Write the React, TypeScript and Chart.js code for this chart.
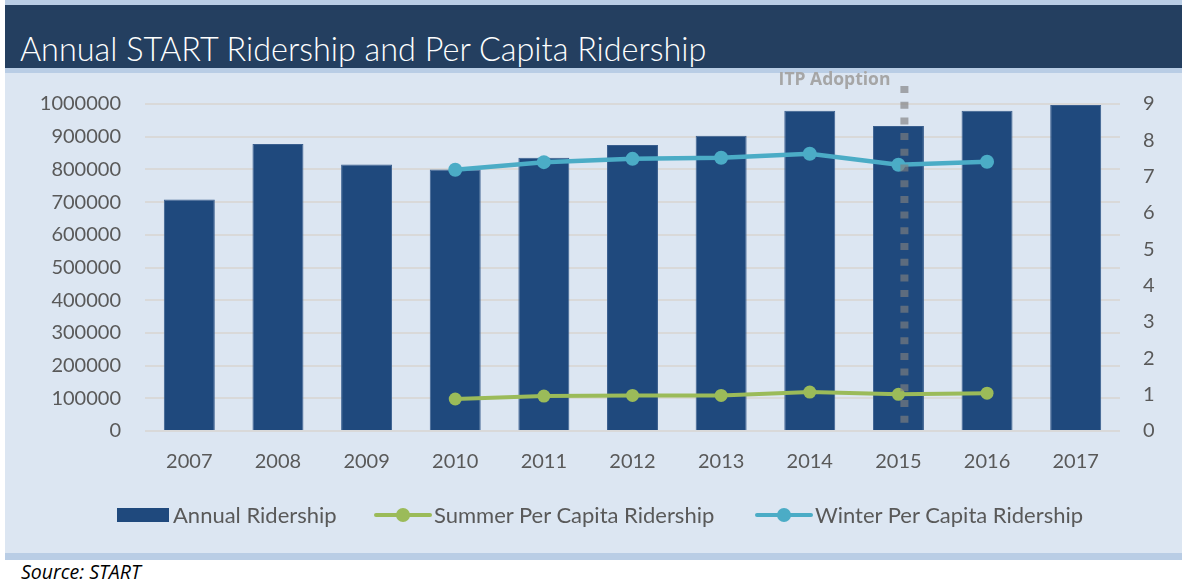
import React, { useEffect, useRef } from "react";
import { Chart, registerables } from "chart.js";

Chart.register(...registerables);

const years = ["2007", "2008", "2009", "2010", "2011", "2012", "2013", "2014", "2015", "2016", "2017"];
const annualRidership = [708000, 878000, 815000, 800000, 836000, 875000, 903000, 979000, 933000, 979000, 997000];
const summerPerCapita = [null, null, null, 0.88, 0.96, 0.98, 0.98, 1.07, 1.01, 1.04, null];
const winterPerCapita = [null, null, null, 7.19, 7.4, 7.49, 7.52, 7.63, 7.33, 7.41, null];
const leftAxisMax = 1000000;
const leftAxisStep = 100000;
const rightAxisMax = 9;
const rightAxisStep = 1;
const itpYear = "2015";
const itpLabel = "ITP Adoption";

const NAVY = "#1F497D";
const GREEN = "#9BBB59";
const CYAN = "#4BACC6";
const TICK = "#595959";
const FONT = "Lato, 'Open Sans', sans-serif";

const itpPlugin = {
  id: "itpLine",
  afterDatasetsDraw(chart: any) {
    const { ctx, chartArea, scales } = chart;
    const idx = years.indexOf(itpYear);
    const x = scales.x.getPixelForValue(idx) + 6;
    ctx.save();
    ctx.strokeStyle = "rgba(128,128,128,0.65)";
    ctx.lineWidth = 8;
    ctx.setLineDash([7, 8.7]);
    ctx.beginPath();
    ctx.moveTo(x, 18);
    ctx.lineTo(x, chartArea.bottom - 2);
    ctx.stroke();
    ctx.setLineDash([]);
    ctx.font = `bold 17.5px 'Open Sans', sans-serif`;
    ctx.fillStyle = "#A6A6A6";
    ctx.textAlign = "right";
    ctx.textBaseline = "middle";
    ctx.fillText(itpLabel, x - 14, 12);
    ctx.restore();
  },
};

function LegendLine({ left, color, textLeft, label }: any) {
  return (
    <>
      <div style={{ position: "absolute", left, top: 513, width: 58, height: 4, background: color, borderRadius: 2 }} />
      <div
        style={{
          position: "absolute",
          left: left + 29 - 7,
          top: 508,
          width: 14,
          height: 14,
          borderRadius: 7,
          background: color,
        }}
      />
      <div style={{ position: "absolute", left: textLeft, top: 501, fontSize: 22, lineHeight: "28px", color: TICK, fontFamily: FONT, whiteSpace: "nowrap" }}>
        {label}
      </div>
    </>
  );
}

export default function App() {
  const canvasRef = useRef<HTMLCanvasElement | null>(null);

  useEffect(() => {
    if (!canvasRef.current) return;
    const chart = new Chart(canvasRef.current, {
      type: "bar",
      data: {
        labels: years,
        datasets: [
          {
            type: "line",
            label: "Summer Per Capita Ridership",
            data: summerPerCapita,
            yAxisID: "y1",
            borderColor: GREEN,
            backgroundColor: GREEN,
            borderWidth: 4,
            pointRadius: 6.5,
            pointBorderWidth: 0,
            pointBackgroundColor: GREEN,
            order: 1,
          },
          {
            type: "line",
            label: "Winter Per Capita Ridership",
            data: winterPerCapita,
            yAxisID: "y1",
            borderColor: CYAN,
            backgroundColor: CYAN,
            borderWidth: 4.5,
            pointRadius: 7,
            pointBorderWidth: 0,
            pointBackgroundColor: CYAN,
            order: 1,
          },
          {
            type: "bar",
            label: "Annual Ridership",
            data: annualRidership,
            yAxisID: "y",
            backgroundColor: NAVY,
            borderColor: "#3A5F8F",
            borderWidth: 1,
            barPercentage: 1,
            categoryPercentage: 0.575,
            order: 2,
          },
        ],
      } as any,
      options: {
        animation: false,
        responsive: false,
        layout: { padding: { top: 34, left: 0, right: 0, bottom: 0 } },
        plugins: { legend: { display: false }, tooltip: { enabled: false }, title: { display: false } },
        scales: {
          x: {
            grid: { display: false, drawTicks: false },
            border: { display: false },
            ticks: { color: TICK, font: { family: FONT, size: 20 }, padding: 19 },
            afterFit(scale: any) {
              scale.height = 122;
            },
          },
          y: {
            position: "left",
            min: 0,
            max: leftAxisMax,
            ticks: {
              stepSize: leftAxisStep,
              color: TICK,
              font: { family: FONT, size: 20 },
              padding: 24,
              callback: (v: any) => String(v),
            },
            grid: { color: "#D9D9D9", lineWidth: 2, drawTicks: false },
            border: { display: false },
            afterFit(scale: any) {
              scale.width = 140;
            },
          },
          y1: {
            position: "right",
            min: 0,
            max: rightAxisMax,
            ticks: { stepSize: rightAxisStep, color: TICK, font: { family: FONT, size: 20 }, padding: 23 },
            grid: { display: false, drawTicks: false },
            border: { display: false },
            afterFit(scale: any) {
              scale.width = 61;
            },
          },
        },
      } as any,
      plugins: [itpPlugin],
    });
    return () => chart.destroy();
  }, []);

  return (
    <div style={{ position: "absolute", left: 0, top: 0, width: 1182, height: 585, background: "#FFFFFF", overflow: "hidden" }}>
      <div style={{ position: "absolute", left: 5, top: 0, width: 1177, height: 5, background: "#B9CDE5" }} />
      <div style={{ position: "absolute", left: 5, top: 5, width: 1177, height: 63, background: "#243F60" }} />
      <div style={{ position: "absolute", left: 5, top: 68, width: 1177, height: 5, background: "#B9CDE5" }} />
      <div style={{ position: "absolute", left: 5, top: 73, width: 1177, height: 480, background: "#DCE6F2" }} />
      <div style={{ position: "absolute", left: 5, top: 553, width: 1177, height: 7, background: "#B9CDE5" }} />
      <div
        style={{
          position: "absolute",
          left: 20,
          top: 29,
          fontFamily: FONT,
          fontWeight: 300,
          fontSize: 32.4,
          lineHeight: "40px",
          color: "#FFFFFF",
          whiteSpace: "nowrap",
        }}
      >
        Annual START Ridership and Per Capita Ridership
      </div>
      <canvas ref={canvasRef} width={1176} height={485} style={{ position: "absolute", left: 5, top: 68, width: 1176, height: 485 }} />
      <div style={{ position: "absolute", left: 117, top: 508, width: 52, height: 14, background: NAVY }} />
      <div style={{ position: "absolute", left: 173, top: 501, fontSize: 22, lineHeight: "28px", color: TICK, fontFamily: FONT, whiteSpace: "nowrap" }}>
        Annual Ridership
      </div>
      <LegendLine left={374} color={GREEN} textLeft={434} label="Summer Per Capita Ridership" />
      <LegendLine left={755} color={CYAN} textLeft={815} label="Winter Per Capita Ridership" />
      <div style={{ position: "absolute", left: 21, top: 559, fontSize: 19.5, lineHeight: "26px", fontStyle: "italic", color: "#000", fontFamily: "'Open Sans', sans-serif", whiteSpace: "nowrap" }}>
        Source: START
      </div>
    </div>
  );
}
